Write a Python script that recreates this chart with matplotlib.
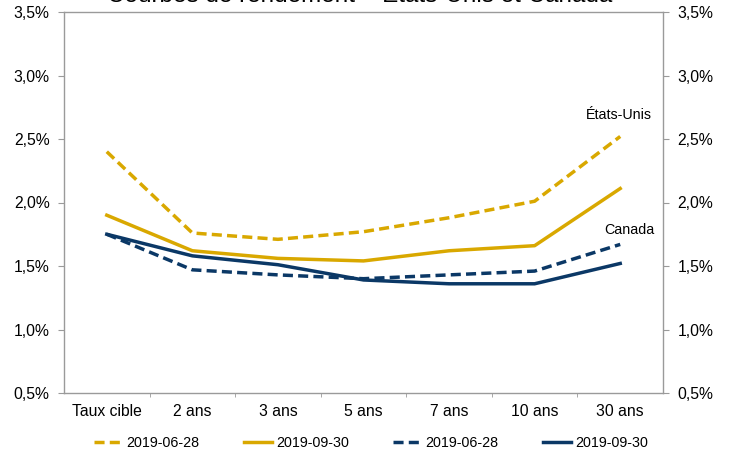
import matplotlib.pyplot as plt
import numpy as np
from matplotlib.ticker import FuncFormatter, FixedLocator

plt.rcParams['font.family'] = ['Liberation Sans', 'DejaVu Sans']

# Maturités et rendements (%)
maturities = ['Taux cible', '2 ans', '3 ans', '5 ans', '7 ans', '10 ans', '30 ans']
us_jun = [2.40, 1.76, 1.71, 1.77, 1.88, 2.01, 2.52]
us_sep = [1.90, 1.62, 1.56, 1.54, 1.62, 1.66, 2.11]
ca_jun = [1.75, 1.47, 1.43, 1.40, 1.43, 1.46, 1.67]
ca_sep = [1.75, 1.58, 1.51, 1.39, 1.36, 1.36, 1.52]
dates = ['2019-06-28', '2019-09-30']

gold = '#D9A800'
navy = '#0B3866'
grey = '#9A9A9A'

fig = plt.figure(figsize=(7.29, 4.54), dpi=100)
ax = fig.add_axes([64 / 729, 1 - 393 / 454, 599 / 729, 381 / 454])

x = np.arange(len(maturities))
lw = 2.5
dash = (0, (2.9, 1.5))
ax.plot(x, us_jun, color=gold, lw=lw, ls=dash, label=dates[0])
ax.plot(x, us_sep, color=gold, lw=lw, label=dates[1])
ax.plot(x, ca_jun, color=navy, lw=lw, ls=dash, label=dates[0])
ax.plot(x, ca_sep, color=navy, lw=lw, label=dates[1])

ax.set_xlim(-0.5, len(maturities) - 0.5)
ax.set_ylim(0.5, 3.5)

yticks = np.arange(0.5, 3.51, 0.5)
pct = FuncFormatter(lambda v, p: f'{v:.1f}%'.replace('.', ','))
ax.set_yticks(yticks)
ax.yaxis.set_major_formatter(pct)
ax.tick_params(axis='y', which='both', left=True, right=True,
               labelleft=True, labelright=True, direction='out',
               length=4.3, color=grey, labelsize=11.3, pad=6)

ax.set_xticks(x)
ax.set_xticklabels(maturities)
ax.xaxis.set_minor_locator(FixedLocator(np.arange(0.5, len(maturities) - 1, 1)))
ax.tick_params(axis='x', which='major', length=0, labelsize=11.3, pad=8)
ax.tick_params(axis='x', which='minor', length=3, direction='out', color=grey)

for s in ax.spines.values():
    s.set_color(grey)
    s.set_linewidth(1.0)

ax.text(5.99, 2.69, 'États-Unis', ha='center', va='center', fontsize=10.3)
ax.text(6.11, 1.78, 'Canada', ha='center', va='center', fontsize=10.3)

# titre en haut, rogné par le bord de la figure
fig.text(360 / 729, 1 - 1.5 / 454, 'Courbes de rendement – États-Unis et Canada',
         ha='center', va='baseline', fontsize=17.5)

fig.legend(loc='center', bbox_to_anchor=(371 / 729, 1 - 443 / 454), ncol=4,
           frameon=False, fontsize=10.3, handlelength=1.95, handletextpad=0.3,
           columnspacing=3.1)

fig.savefig('out.png', dpi=100)
